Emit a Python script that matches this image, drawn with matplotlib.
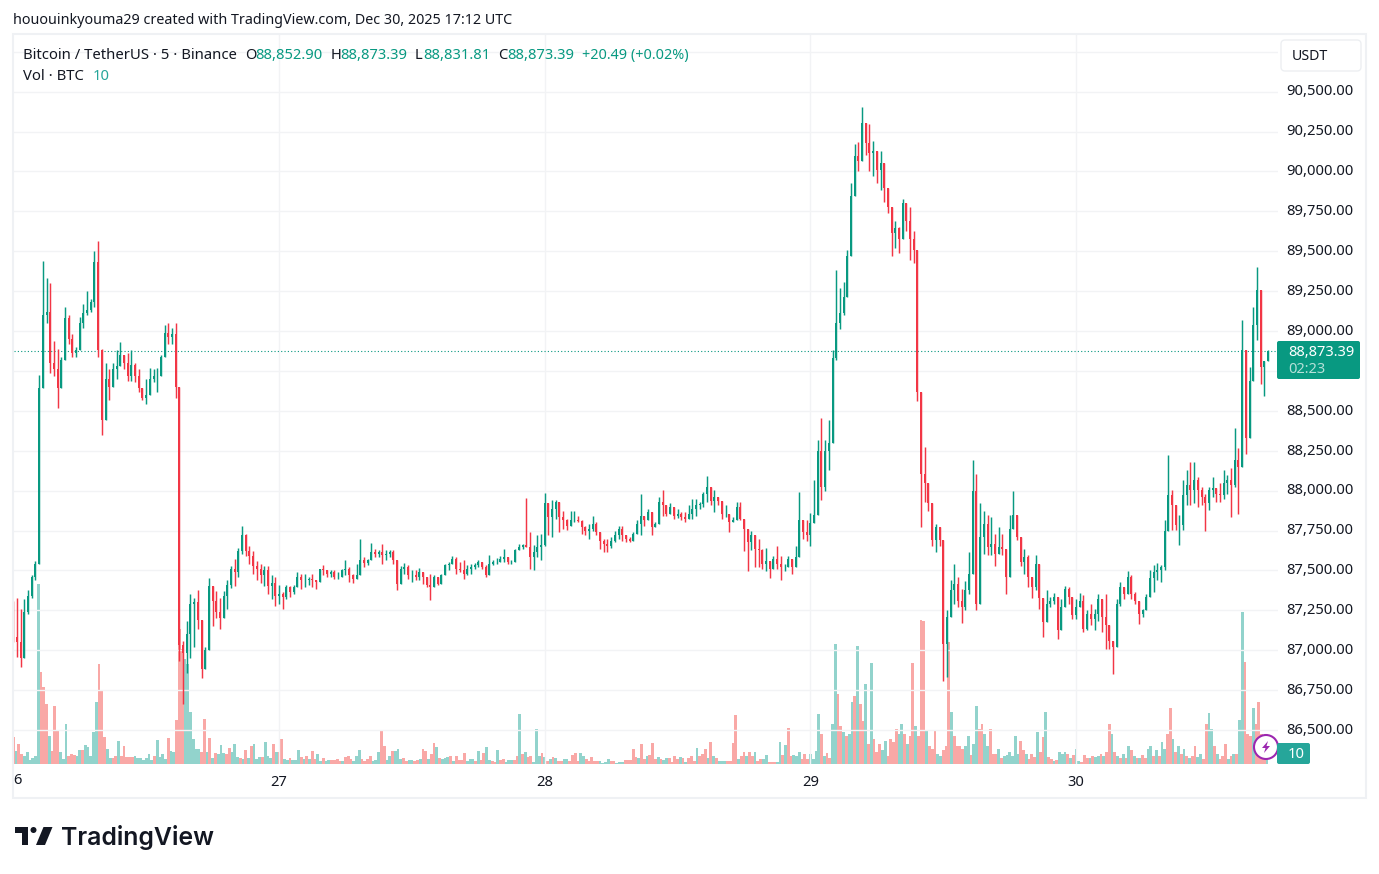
import numpy as np
import matplotlib
matplotlib.use("Agg")
import matplotlib.pyplot as plt
from matplotlib.patches import Rectangle, FancyBboxPatch, Circle, Polygon
from matplotlib.transforms import ScaledTranslation

W, H = 1379, 874

# 20-minute candles (open = previous close), from Dec 26 00:00
highs = [
 87310,87325,87260,87320,87380,87470,87560,88725,89440,89330,89300,88935,88890,88840,89150,89100,88980,88900,89090,89170,89250,89200,89500,89566,
 88890,88800,88760,88800,88880,88930,88850,88860,88880,88800,88760,88640,88700,88770,88760,88770,88850,89040,89050,89020,89050,88650,87060,87180,
 87350,87330,87380,87190,87020,87450,87400,87370,87330,87370,87440,87530,87570,87640,87780,87730,87650,87620,87560,87540,87530,87530,87470,87460,
 87406,87364,87406,87400,87406,87490,87479,87479,87458,87479,87437,87510,87531,87504,87500,87500,87490,87510,87567,87521,87479,87542,87699,87584,
 87573,87673,87636,87625,87667,87625,87630,87630,87563,87525,87546,87531,87500,87500,87515,87490,87458,87479,87469,87458,87479,87542,87552,87588,
 87584,87552,87563,87531,87542,87546,87567,87552,87531,87594,87563,87579,87588,87636,87573,87563,87636,87667,87667,87956,87740,87657,87720,87730,
 87985,87896,87942,87942,87917,87875,87823,87871,87875,87844,87813,87781,87792,87838,87802,87740,87698,87698,87708,87750,87781,87781,87712,87708,
 87740,87813,87976,87844,87886,87802,87802,87963,88005,87875,87921,87890,87886,87865,87865,87907,87949,87949,87928,87990,88089,88011,88005,87963,
 87938,87907,87844,87834,87928,87928,87823,87760,87750,87719,87698,87635,87641,87562,87593,87656,87593,87541,87593,87572,87656,87990,87813,87817,
 87860,88065,88320,88455,88320,88440,88880,89385,89270,89310,89505,89930,90170,90185,90405,90295,90300,90190,90125,90125,90050,89895,89750,89690,
 89655,89825,89800,89780,89625,89440,88620,88275,88050,87920,87790,87770,87690,87250,87440,87540,87460,87385,87435,87615,88190,88105,87920,87875,
 87845,87835,87730,87770,87730,87635,87845,88000,87845,87710,87635,87595,87460,87595,87540,87330,87375,87335,87360,87335,87320,87405,87395,87335,
 87320,87360,87345,87250,87290,87260,87355,87320,87350,87155,87060,87320,87425,87395,87495,87470,87365,87310,87260,87355,87500,
 87535,87545,87535,87815,88225,88005,87910,87845,88065,88130,88180,88180,88085,88025,87980,88025,88085,88015,88045,88130,88095,88140,88390,88265,
 89070,88880,88775,89150,89400,89255,88810,88880]
lows = [
 87050,86960,86895,86950,87230,87330,87440,87540,88640,89050,88740,88720,88520,88650,88820,88920,88840,88840,88880,89020,89100,89120,89150,88835,
 88350,88440,88570,88650,88700,88790,88760,88690,88690,88680,88620,88570,88540,88600,88680,88620,88720,88840,88920,88920,88580,86930,86665,86860,
 86950,87020,87130,86825,86880,87000,87150,87200,87130,87200,87260,87390,87400,87460,87600,87590,87540,87480,87440,87420,87400,87350,87320,87280,
 87291,87260,87322,87333,87354,87395,87385,87395,87406,87395,87385,87427,87469,87458,87458,87448,87444,87479,87469,87427,87421,87448,87500,87521,
 87531,87573,87584,87584,87542,87563,87584,87542,87375,87448,87479,87448,87427,87437,87437,87416,87395,87312,87448,87406,87416,87490,87500,87542,
 87479,87490,87448,87469,87479,87510,87521,87510,87458,87469,87531,87542,87552,87552,87542,87542,87552,87625,87636,87650,87510,87500,87584,87563,
 87650,87719,87708,87823,87740,87760,87754,87781,87802,87802,87729,87725,87698,87750,87719,87635,87614,87614,87641,87677,87698,87687,87677,87677,
 87687,87740,87719,87781,87834,87719,87771,87792,87844,87838,87865,87823,87829,87813,87802,87834,87823,87844,87886,87896,87928,87907,87865,87907,
 87823,87834,87740,87802,87844,87813,87620,87499,87625,87520,87520,87510,87499,87453,87510,87510,87441,87499,87520,87478,87520,87583,87698,87687,
 87650,87800,87850,87940,88000,88130,88300,88820,89010,89100,89215,89470,89845,90000,90065,90105,90000,89970,89930,89885,89810,89740,89470,89520,
 89490,89575,89625,89445,89425,88560,87770,87930,87875,87655,87615,87650,86810,86830,87210,87290,87270,87170,87250,87355,87480,87250,87290,87605,
 87595,87595,87530,87605,87595,87355,87460,87760,87690,87530,87480,87395,87330,87375,87260,87080,87175,87270,87290,87070,87125,87270,87290,87195,
 87195,87270,87115,87125,87155,87125,87185,87115,87010,87010,86850,87020,87280,87320,87355,87320,87290,87165,87205,87250,87335,
 87365,87440,87430,87500,87750,87755,87755,87660,87755,87910,87910,87920,87900,87910,87750,87880,87960,87930,87930,87950,87980,87835,88025,87855,
 88150,88230,88330,88690,88945,88670,88590,88810]
closes = [
 87080,87050,86950,87240,87340,87460,87540,88640,89100,89120,88800,88760,88640,88820,89080,88950,88860,88880,89050,89110,89130,89180,89430,88880,
 88440,88700,88650,88760,88780,88850,88800,88720,88790,88720,88640,88580,88600,88700,88720,88720,88840,88990,88960,88980,88650,87030,86980,87100,
 87290,87300,87190,86880,87000,87400,87310,87240,87200,87340,87410,87510,87490,87620,87720,87620,87590,87530,87510,87470,87500,87400,87420,87340,
 87354,87333,87395,87364,87395,87458,87437,87437,87448,87437,87427,87510,87500,87479,87490,87458,87458,87500,87510,87469,87448,87469,87563,87546,
 87563,87615,87605,87615,87594,87605,87615,87563,87416,87510,87521,87469,87469,87458,87490,87458,87406,87395,87458,87416,87469,87531,87542,87573,
 87510,87500,87479,87510,87521,87531,87552,87521,87469,87542,87552,87552,87573,87584,87552,87552,87625,87646,87657,87646,87584,87615,87646,87657,
 87920,87834,87886,87928,87834,87813,87781,87813,87813,87808,87771,87750,87760,87792,87740,87687,87666,87650,87687,87719,87760,87719,87698,87687,
 87729,87792,87844,87813,87865,87771,87792,87928,87907,87855,87896,87844,87855,87834,87823,87855,87886,87907,87917,87980,88022,87938,87959,87938,
 87855,87855,87802,87813,87896,87823,87760,87677,87719,87635,87625,87541,87562,87510,87572,87541,87520,87520,87572,87520,87583,87813,87740,87719,
 87800,87850,88250,88020,88250,88300,88830,89050,89110,89215,89470,89845,90095,90065,90305,90180,90115,90125,90010,90050,89895,89780,89615,89645,
 89575,89800,89690,89575,89510,88620,88105,88045,87920,87690,87770,87690,87040,87210,87375,87415,87310,87270,87375,87480,88000,87290,87710,87790,
 87645,87665,87605,87645,87635,87460,87760,87845,87710,87550,87585,87460,87395,87540,87330,87175,87290,87310,87335,87125,87270,87385,87335,87220,
 87270,87310,87135,87230,87195,87230,87320,87205,87155,87060,87020,87290,87395,87355,87460,87355,87310,87230,87250,87335,87450,
 87490,87505,87520,87750,87975,87910,87785,87785,87975,88035,88005,88065,88005,87960,87920,88005,88015,87980,87970,88045,88065,88035,88190,88150,
 88880,88330,88690,89040,89255,88775,88810,88873.39]
first_open = 87300

# 15-minute volumes per stretch, in tens of BTC; negative = down bar
vol_dec26 = [-27,13,-20,-10,8,12,4,6,8,180,-92,-77,-60,28,-13,-58,-33,12,5,40,-8,-10,-9,8,14,-14,19,17,8,32,
 62,-100,-74,-27,15,6,-6,-8,23,-8,-18,-7,-7,-7,8,6,6,4,6,10,4,-8,24,7,10,5,-26,13,12,-44,-135,-115,105,100,52,25,15,15,-12,-45,12,-26,6,-11,10,19,11,
 -10,-16,12,20,7,-6,5,-14,6,-18,20,5,7,-7,22,8,6,-20,12]
vol_dec27_28 = [-12,-25,5,4,-6,4,4,14,-7,5,-8,5,-13,-5,10,3,-6,3,4,-4,-4,-5,-3,3,-7,-8,-5,3,8,14,-5,-3,-5,-8,3,4,12,-33,-18,4,8,-13,13,15,5,-6,-3,4,4,-3,-4,5,
 -15,-13,5,-10,-21,17,-6,5,6,7,-8,3,-8,-4,-4,-11,3,5,5,-3,13,-4,-11,17,4,-3,-2,14,-4,-5,2,4,4,-4,-8,50,-10,12,-7,-8,2,35,8,-11,7,-3,5,-7,6,-3,-3,5,5,-3,
 -9,-11,-3,11,8,-5,-3,-7,-3,-3,3,1,2,5,-3,-3,1,2,2,-4,-4,-4,-15,-7,6,-20,-5,8,-9,-21,-5,7,-5,4,6,-6,-2,-8,-5,7,-6,2,-6,-8,-3,16,-8,-10,-15,6,-22,8,-6,3,3,
 3,-3,-3,-21,-49,5,-8,-12,8,-12,-8,12,-3,-5,5,9,-2,-2,-2,2,22,-9,19,-36,-8,9,8,12,-5,-10,-5,6]
vol_dec29 = [10,5,13,50,-30,8,-11,-6,40,120,-70,-38,32,-28,30,62,-68,118,-60,-43,80,-20,101,-25,-12,-20,14,23,-8,-25,-22,-35,30,40,-30,20,-28,-101,38,-28,-144,-143,33,-18,-15,-33,10,8,-14,-18,
 -122,52,-28,-18,-18,-15,18,28,-9,20,58,-35,-40,30,18,-35,-10,-10,15,-6,8,9,12,8,28,10,-23,-14,10,-5,-10,-7,32,-12,-27,52,-7,-5,3,-4,12,10,12,-10,6,-9]
vol_dec30 = [15,3,-2,-9,-6,6,-8,7,8,-10,8,-12,-40,30,-12,8,-6,10,-6,18,-14,8,-6,6,-9,-6,15,18,-8,14,-8,22,15,-30,-56,25,-12,18,-10,15,-8,6,-8,
 -18,7,10,-5,-40,51,35,-18,10,-5,-8,-20,5,-8,10,-10,44,152,-102,-30,-28,56,-40,-62,-30,-8,4]

price_ticks = [86500,86750,87000,87250,87500,87750,88000,88250,88500,88750,89000,89250,89500,89750,90000,90250,90500,90750]
price_labels = ["86,500.00","86,750.00","87,000.00","87,250.00","87,500.00","87,750.00","88,000.00","88,250.00",
                "88,500.00","","89,000.00","89,250.00","89,500.00","89,750.00","90,000.00","90,250.00","90,500.00",""]
day_ticks = [1, 2, 3, 4]
day_labels = ["27", "28", "29", "30"]
last_price = 88873.39

UP, DOWN = "#089981", "#F23645"
VUP, VDOWN = "#92D3CC", "#F9A8A6"
GRID = "#F2F3F5"
TXT = "#131722"
FONT = "Noto Sans"
plt.rcParams["font.family"] = [FONT, "DejaVu Sans"]

fig = plt.figure(figsize=(W / 100, H / 100), dpi=100, facecolor="white")

def rect(x0, y0, x1, y1):
    return [x0 / W, 1 - y1 / H, (x1 - x0) / W, (y1 - y0) / H]

box = rect(14, 35, 1278, 764)
ax_v = fig.add_axes(box, zorder=1)
ax = fig.add_axes(box, zorder=2)
ax.patch.set_alpha(0)
px = 1 / 265.7   # one pixel in days
xlim = (0.0026, 4.7599)
ylim = (86287, 90855)

# volume
ax_v.set_xlim(xlim); ax_v.set_ylim(0, 729)
ax_v.axis("off")
step_v = 15 / 1440
for start, vols in [(0, vol_dec26), (1, vol_dec27_28), (3, vol_dec29), (4, vol_dec30)]:
    v = np.array(vols, float)
    t = start + np.arange(len(v)) * step_v
    ax_v.bar(t, np.abs(v), width=step_v, color=np.where(v >= 0, VUP, VDOWN), linewidth=0, antialiased=False)

# candles
h, l, c = map(lambda a: np.array(a, float), (highs, lows, closes))
o = np.r_[first_open, c[:-1]]
t = np.arange(len(c)) * 20 / 1440
col = np.where(c >= o, UP, DOWN)
ax.vlines(t, np.minimum(l, np.minimum(o, c)), np.maximum(h, np.maximum(o, c)), colors=col, linewidth=1.05, zorder=3)
ax.bar(t, np.maximum(np.abs(c - o), 1), bottom=np.minimum(o, c), width=2.0 * px, color=col, linewidth=0, zorder=3)

ax.set_xlim(xlim); ax.set_ylim(ylim)
ax.axhline(last_price, color=UP, lw=0.8, ls=(0, (1, 2)), zorder=2)
ax.set_xticks(day_ticks); ax.set_xticklabels(day_labels)
ax.set_yticks(price_ticks); ax.set_yticklabels(price_labels)
ax.yaxis.tick_right()
ax.tick_params(axis="both", length=0, labelcolor=TXT, labelsize=10.6)
ax.tick_params(axis="y", pad=6.2)
ax.tick_params(axis="x", pad=8)
ax.get_xticklabels()[2].set_fontweight("bold")
lift = ScaledTranslation(0, 0.017, fig.dpi_scale_trans)
for lab in ax.get_yticklabels():
    lab.set_transform(lab.get_transform() + lift)
ax.grid(True, color=GRID, lw=1)
ax.set_axisbelow(True)
for s in ax.spines.values():
    s.set_visible(False)

# overlay in picture coordinates for the chrome
ov = fig.add_axes([0, 0, 1, 1], zorder=5)
ov.set_xlim(0, W); ov.set_ylim(H, 0); ov.axis("off")
ov.patch.set_alpha(0)
ov.add_patch(Rectangle((13, 34), 1353, 764, fill=False, ec="#EFF1F4", lw=1.5))

ov.text(13, 20.5, "hououinkyouma29 created with TradingView.com, Dec 30, 2025 17:12 UTC",
        fontsize=10.3, color=TXT, va="center")
ov.text(23, 55.5, "Bitcoin / TetherUS · 5 · Binance", fontsize=10.7, color=TXT, va="center")
for xl, lab, xv, val in [(245, "O", 255, "88,852.90"), (331, "H", 340, "88,873.39"),
                         (415, "L", 423, "88,831.81"), (498, "C", 507, "88,873.39")]:
    ov.text(xl, 55.5, lab, fontsize=10.6, color=TXT, va="center")
    ov.text(xv, 55.5, val, fontsize=10.6, color=UP, va="center")
ov.text(582, 55.5, "+20.49 (+0.02%)", fontsize=10.4, color=UP, va="center")
ov.text(23, 76.5, "Vol · BTC", fontsize=10.7, color=TXT, va="center")
ov.text(93, 76.5, "10", fontsize=10.6, color="#26A69A", va="center")
ov.text(13, 781, "6", fontsize=10.6, color=TXT, va="center")

ov.add_patch(FancyBboxPatch((1281, 40), 80, 31, boxstyle="round,pad=0,rounding_size=4", fc="white", ec="#EDEFF2", lw=1))
ov.text(1292, 56, "USDT", fontsize=10.2, color=TXT, va="center")

ov.add_patch(FancyBboxPatch((1277, 341), 83, 38, boxstyle="round,pad=0,rounding_size=2", fc=UP, ec="none"))
ov.text(1288, 352, "88,873.39", fontsize=10.5, color="white", va="center", fontweight="semibold")
ov.text(1288, 369.5, "02:23", fontsize=10.5, color="#B5E0D8", va="center")

ov.add_patch(Circle((1266, 747), 12, fc="white", ec="#9C27B0", lw=1.5))
ov.add_patch(Polygon([(1268, 741), (1262, 748), (1265.5, 748), (1264, 753), (1270, 746), (1266.5, 746)], fc="#9C27B0", ec="none"))
ov.add_patch(FancyBboxPatch((1277, 743), 33, 21, boxstyle="round,pad=0,rounding_size=2", fc="#26A69A", ec="none"))
ov.text(1296, 754, "10", fontsize=10.6, color="white", va="center", ha="center")

# logo
ov.add_patch(Polygon([(15, 827), (28, 827), (28, 845), (22, 845), (22, 833), (15, 833)], fc="#131722", ec="none"))
ov.add_patch(Circle((33.5, 830), 3, fc="#131722", ec="none"))
ov.add_patch(Polygon([(43.5, 827), (52.5, 827), (45, 845), (36, 845)], fc="#131722", ec="none"))
ov.text(61, 837.5, "TradingView", fontsize=17.9, family="Inter", fontweight="semibold", color="#131722", va="center")

fig.savefig("out.png", dpi=100, facecolor="white")
